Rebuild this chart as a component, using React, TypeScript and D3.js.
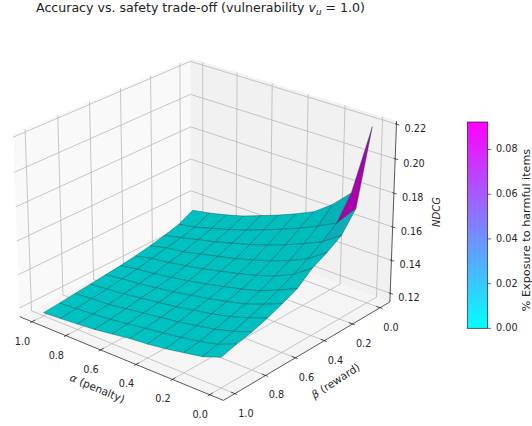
import React from "react";
import * as d3 from "d3";

const alphaGrid = [0, 0.1, 0.2, 0.3, 0.4, 0.5, 0.6, 0.7, 0.8, 0.9, 1];
const betaGrid = [0, 0.1, 0.2, 0.3, 0.4, 0.5, 0.6, 0.7, 0.8, 0.9, 1];
// rows: alpha, columns: beta
const ndcg = [
  [0.219, 0.1758, 0.1645, 0.159, 0.1545, 0.1475, 0.1435, 0.14, 0.137, 0.135, 0.1325],
  [0.177, 0.1635, 0.157, 0.1515, 0.147, 0.1425, 0.139, 0.136, 0.133, 0.1305, 0.1285],
  [0.1665, 0.158, 0.152, 0.1465, 0.142, 0.138, 0.135, 0.1325, 0.13, 0.128, 0.1265],
  [0.1585, 0.153, 0.1475, 0.1425, 0.1385, 0.135, 0.1325, 0.13, 0.128, 0.126, 0.1245],
  [0.1535, 0.1485, 0.1435, 0.139, 0.1355, 0.1325, 0.13, 0.128, 0.126, 0.1245, 0.123],
  [0.149, 0.1445, 0.14, 0.136, 0.133, 0.13, 0.128, 0.126, 0.1245, 0.123, 0.122],
  [0.145, 0.1405, 0.137, 0.1335, 0.1305, 0.128, 0.126, 0.1245, 0.123, 0.1215, 0.1205],
  [0.141, 0.137, 0.134, 0.131, 0.1285, 0.126, 0.1245, 0.123, 0.1215, 0.12, 0.119],
  [0.138, 0.134, 0.1315, 0.1285, 0.1265, 0.1245, 0.123, 0.1215, 0.12, 0.119, 0.118],
  [0.1355, 0.131, 0.129, 0.1272, 0.1252, 0.1232, 0.122, 0.1205, 0.1195, 0.1183, 0.1172],
  [0.1335, 0.129, 0.1265, 0.1245, 0.1228, 0.1215, 0.1205, 0.1195, 0.1185, 0.1175, 0.1166],
];
// exposure of the cell whose first corner is (alpha row, beta column)
const exposure = [
  [0.092, 0.006, 0.001, 0, 0, 0, 0, 0, 0, 0],
  [0.004, 0.001, 0, 0, 0, 0, 0, 0, 0, 0],
];
const xyTicks = [0, 0.2, 0.4, 0.6, 0.8, 1];
const zTicks = [0.12, 0.14, 0.16, 0.18, 0.2, 0.22];
const cbTicks = [0, 0.02, 0.04, 0.06, 0.08];
const cbMax = 0.0923;

const title = "Accuracy vs. safety trade-off (vulnerability ";
const FONT = "DejaVu Sans";
const elev = (25 * Math.PI) / 180;
const azim = (130 * Math.PI) / 180;
const dist = 10;
const box = [1.1428, 1.1428, 0.8572];
const xyLo = -0.0729, xyHi = 1.0729, zLo = 0.1147, zHi = 0.2218;

const wx = d3.scaleLinear().domain([xyLo, xyHi]).range([0, box[0]]);
const wy = d3.scaleLinear().domain([xyLo, xyHi]).range([0, box[1]]);
const wz = d3.scaleLinear().domain([zLo, zHi]).range([0, box[2]]);
const n = [Math.cos(elev) * Math.cos(azim), Math.cos(elev) * Math.sin(azim), Math.sin(elev)];
const uN = Math.hypot(n[0], n[1]);
const u = [-n[1] / uN, n[0] / uN, 0];
const v = [n[1] * u[2] - n[2] * u[1], n[2] * u[0] - n[0] * u[2], n[0] * u[1] - n[1] * u[0]];
const sx = d3.scaleLinear().domain([0, 1]).range([206, 206 + 2340]);
const sy = d3.scaleLinear().domain([0, 1]).range([220, 220 - 2340]);

function proj(a: number, b: number, z: number): [number, number, number] {
  const r = [wx(a) - box[0] / 2, wy(b) - box[1] / 2, wz(z) - box[2] / 2];
  const dot = (p: number[]) => p[0] * r[0] + p[1] * r[1] + p[2] * r[2];
  const d = dist - dot(n);
  return [sx(dot(u) / d), sy(dot(v) / d), d];
}
const line = d3.line<[number, number, number]>().x((p) => p[0]).y((p) => p[1]);
const poly = (pts: [number, number, number][]) => line(pts)! + "Z";
const seg = (p: [number, number, number], q: [number, number, number]) => line([p, q])!;

const cool = (t: number) => d3.rgb(255 * t, 255 * (1 - t), 255);
const lightDir = [-0.6667, -0.6667, 0.3333];

function cellFill(i: number, j: number) {
  const val = exposure[i] ? exposure[i][j] ?? 0 : 0;
  const c = cool(Math.min(1, val / cbMax));
  const a0 = alphaGrid[i], a1 = alphaGrid[i + 1], b0 = betaGrid[j], b1 = betaGrid[j + 1];
  const dzda = (ndcg[i + 1][j] + ndcg[i + 1][j + 1] - ndcg[i][j] - ndcg[i][j + 1]) / 2 / (a1 - a0);
  const dzdb = (ndcg[i][j + 1] + ndcg[i + 1][j + 1] - ndcg[i][j] - ndcg[i + 1][j]) / 2 / (b1 - b0);
  const len = Math.hypot(dzda, dzdb, 1);
  const shade = (-dzda * lightDir[0] - dzdb * lightDir[1] + lightDir[2]) / len;
  const f = Math.max(0.667, 0.3 + 0.7 * (shade + 1) / 2);
  return d3.rgb(c.r * f, c.g * f, c.b * f).formatRgb();
}

export default function App() {
  const cells: { d: string; depth: number; fill: string }[] = [];
  for (let i = 0; i < alphaGrid.length - 1; i++) {
    for (let j = 0; j < betaGrid.length - 1; j++) {
      const pts = [
        proj(alphaGrid[i], betaGrid[j], ndcg[i][j]),
        proj(alphaGrid[i + 1], betaGrid[j], ndcg[i + 1][j]),
        proj(alphaGrid[i + 1], betaGrid[j + 1], ndcg[i + 1][j + 1]),
        proj(alphaGrid[i], betaGrid[j + 1], ndcg[i][j + 1]),
      ];
      cells.push({ d: poly(pts), depth: d3.mean(pts, (p) => p[2])!, fill: cellFill(i, j) });
    }
  }
  cells.sort((p, q) => q.depth - p.depth);

  const cbY = d3.scaleLinear().domain([0, cbMax]).range([328.3, 122]);
  const gridStyle = { stroke: "#b9b9b9", strokeWidth: 0.8, fill: "none" };
  const axisStyle = { stroke: "#222", strokeWidth: 0.75, fill: "none" };
  const tickText = { fontFamily: FONT, fontSize: 9.7, fill: "#262626" };
  const labelText = { ...tickText, fontSize: 10.6 };

  return (
    <svg width={532} height={426} style={{ position: "absolute", left: 0, top: 0 }}>
      <defs>
        <linearGradient id="cb" x1="0" y1="1" x2="0" y2="0">
          {[0, 0.5, 1].map((t) => (
            <stop key={t} offset={t} stopColor={cool(t).formatRgb()} />
          ))}
        </linearGradient>
      </defs>
      <rect width={532} height={426} fill="white" />
      <text x={36} y={12} fontFamily={FONT} fontSize={12.6} fill="#222">
        {title}
        <tspan fontStyle="italic">v</tspan>
        <tspan fontStyle="italic" fontSize={8.8} dy={2.5}>u</tspan>
        <tspan dy={-2.5}> = 1.0)</tspan>
      </text>

      {/* panes */}
      <path d={poly([proj(xyHi, xyLo, zLo), proj(xyHi, xyHi, zLo), proj(xyHi, xyHi, zHi), proj(xyHi, xyLo, zHi)])} fill="#f9f9f9" />
      <path d={poly([proj(xyLo, xyLo, zLo), proj(xyHi, xyLo, zLo), proj(xyHi, xyLo, zHi), proj(xyLo, xyLo, zHi)])} fill="#f1f1f1" />
      <path d={poly([proj(xyLo, xyLo, zLo), proj(xyHi, xyLo, zLo), proj(xyHi, xyHi, zLo), proj(xyLo, xyHi, zLo)])} fill="#f5f5f5" />

      {/* gridlines */}
      {xyTicks.map((t) => (
        <g key={t} {...gridStyle}>
          <path d={seg(proj(t, xyLo, zLo), proj(t, xyHi, zLo))} />
          <path d={seg(proj(t, xyLo, zLo), proj(t, xyLo, zHi))} />
          <path d={seg(proj(xyLo, t, zLo), proj(xyHi, t, zLo))} />
          <path d={seg(proj(xyHi, t, zLo), proj(xyHi, t, zHi))} />
        </g>
      ))}
      {zTicks.map((t) => (
        <g key={t} {...gridStyle}>
          <path d={seg(proj(xyLo, xyLo, t), proj(xyHi, xyLo, t))} />
          <path d={seg(proj(xyHi, xyLo, t), proj(xyHi, xyHi, t))} />
        </g>
      ))}

      {/* surface */}
      {cells.map((c, k) => (
        <path key={k} d={c.d} fill={c.fill} stroke="#0a4f55" strokeOpacity={0.75} strokeWidth={0.55} strokeLinejoin="round" />
      ))}

      {/* axes */}
      <path d={seg(proj(xyHi, xyHi, zLo), proj(xyLo, xyHi, zLo))} {...axisStyle} />
      <path d={seg(proj(xyLo, xyHi, zLo), proj(xyLo, xyLo, zLo))} {...axisStyle} />
      <path d={seg(proj(xyLo, xyLo, zLo), proj(xyLo, xyLo, zHi))} {...axisStyle} />
      {xyTicks.map((t) => {
        const pa = proj(t, xyHi, zLo);
        const pb = proj(xyLo, t, zLo);
        return (
          <g key={t}>
            <path d={seg(proj(t, xyHi + 0.012, zLo), proj(t, xyHi - 0.02, zLo))} {...axisStyle} />
            <path d={seg(proj(xyLo - 0.012, t, zLo), proj(xyLo + 0.02, t, zLo))} {...axisStyle} />
            <text x={pa[0] - 9.5} y={pa[1] + 20} textAnchor="middle" dominantBaseline="middle" {...tickText}>{t.toFixed(1)}</text>
            <text x={pb[0] + 11} y={pb[1] + 20} textAnchor="middle" dominantBaseline="middle" {...tickText}>{t.toFixed(1)}</text>
          </g>
        );
      })}
      {zTicks.map((t) => {
        const p = proj(xyLo, xyLo, t);
        return (
          <g key={t}>
            <path d={seg(proj(xyLo - 0.015, xyLo, t), proj(xyLo + 0.008, xyLo, t))} {...axisStyle} />
            <text x={p[0] + 8} y={p[1] + 5} dominantBaseline="middle" {...tickText}>{t.toFixed(2)}</text>
          </g>
        );
      })}
      <text transform="translate(97,389) rotate(23)" textAnchor="middle" dominantBaseline="middle" {...labelText}>
        <tspan fontStyle="italic">α</tspan> (penalty)
      </text>
      <text transform="translate(336,381.5) rotate(-33)" textAnchor="middle" dominantBaseline="middle" {...labelText}>
        <tspan fontStyle="italic">β</tspan> (reward)
      </text>
      <text transform="translate(437,212) rotate(-90)" textAnchor="middle" dominantBaseline="middle" fontStyle="italic" {...tickText} fontSize={10}>NDCG</text>

      {/* colorbar */}
      <rect x={467.3} y={cbY(cbMax)} width={20.4} height={cbY(0) - cbY(cbMax)} fill="url(#cb)" stroke="#222" strokeWidth={0.7} />
      {cbTicks.map((t) => (
        <g key={t}>
          <line x1={487.7} x2={491} y1={cbY(t)} y2={cbY(t)} stroke="#222" strokeWidth={0.7} />
          <text x={496} y={cbY(t)} dominantBaseline="middle" {...tickText}>{t.toFixed(2)}</text>
        </g>
      ))}
      <text transform="translate(527,230) rotate(-90)" textAnchor="middle" dominantBaseline="middle" {...tickText} fontSize={11.2}>% Exposure to harmful items</text>
    </svg>
  );
}
